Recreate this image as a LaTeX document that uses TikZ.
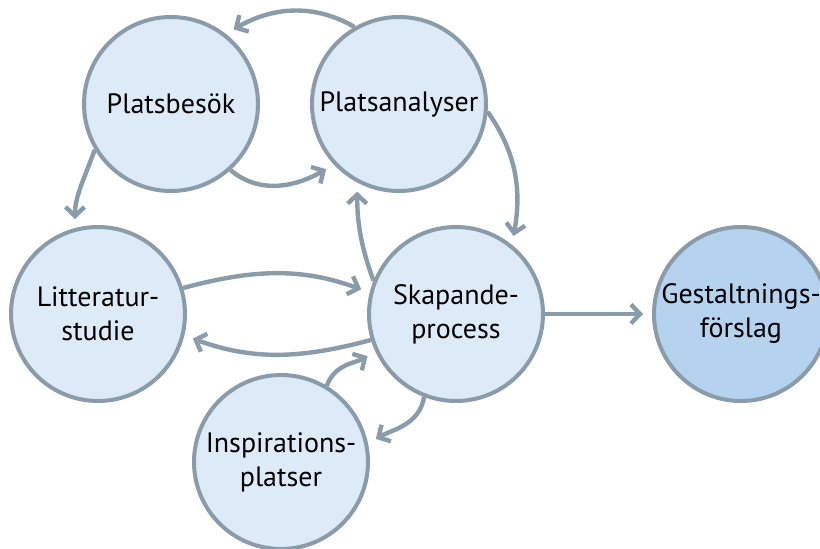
\documentclass[tikz,border=0pt]{standalone}
\usepackage{fontspec}
\setmainfont{PT Sans}
\usepackage{tikz}
\usetikzlibrary{arrows.meta}
\usetikzlibrary{positioning}
\definecolor{ringgray}{HTML}{8A9BA9}
\definecolor{paleblue}{HTML}{DDEAF7}
\definecolor{midblue}{HTML}{B5D2EF}
\tikzstyle{bubble}=[circle,fill=paleblue,draw=ringgray,line width=2pt,minimum size=87pt,inner sep=0pt,align=center,font=\fontsize{14}{17}\selectfont]
\tikzstyle{flow} = [draw=ringgray,line width=2.2pt,-{Straight Barb[length=4.5pt,width=9.5pt]},shorten >=4.5pt]

\begin{document}
\begin{tikzpicture}[x=0.5pt,y=0.5pt]
    \useasboundingbox (0,0) rectangle (820,-549);

    \foreach \pos/\name/\label in {{(171,-104)/besok/Platsbesök}, {(399,-104)/analys/Platsanalyser}, {(98,-314)/litt/{Litteratur-\\studie}}, {(456,-314)/skap/{Skapande-\\process}}, {(281,-462)/insp/{Inspirations-\\platser}}}
        \node[bubble] (\name) at \pos {\label};
    \node[bubble, fill=midblue] (gest) at (741,-314) {Gestaltnings-\\förslag};

    \foreach \source/\sa/\dest/\da/\out/\in in {analys/120/besok/52/150/30, besok/-48/analys/223/-40/210, besok/211/litt/105/-110/90, analys/-5/skap/51/-55/80, skap/158/analys/242/110/-90, litt/17/skap/166/15/160, skap/197/litt/-14/195/-20, insp/59/skap/205/70/210, skap/249/insp/12/-100/30}
        \path[flow] (\source.\sa) to[out=\out, in=\in] (\dest.\da);

    \path[flow] (skap) -- (gest);
\end{tikzpicture}
\end{document}
